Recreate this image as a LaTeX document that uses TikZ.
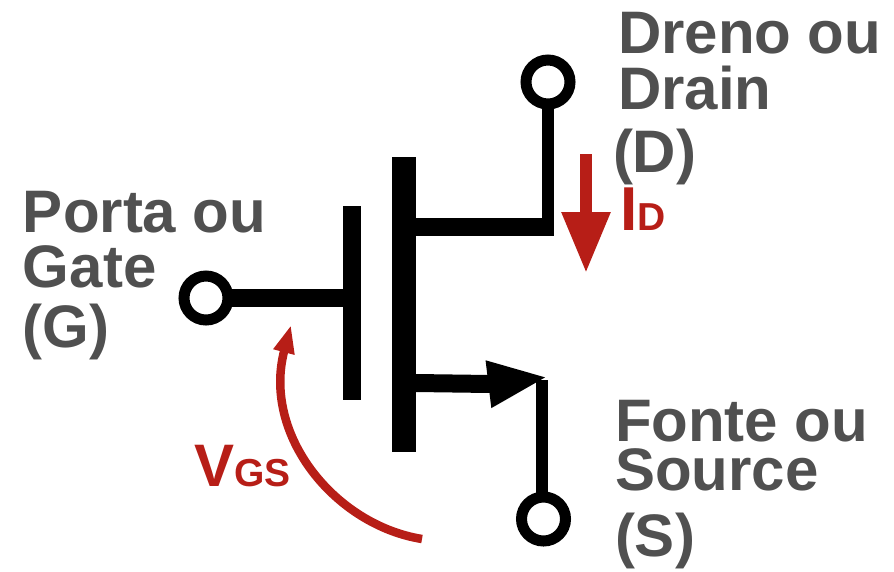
\documentclass[tikz,border=0pt]{standalone}
\usepackage{fontspec}
\setmainfont{Liberation Sans}
\usetikzlibrary{arrows.meta,positioning}
\definecolor{fetgray}{RGB}{80,80,80}
\definecolor{fetred}{RGB}{183,30,23}

\begin{document}
\begin{tikzpicture}[
  x=1pt,y=-1pt,
  every node/.style={inner sep=0pt,outer sep=0pt},
  terminal/.style={circle,draw=black,line width=11pt,fill=white,minimum size=44pt},
  plate/.style={fill=black,rectangle},
  lead/.style={draw=black,line width=12pt},
  arm/.style={draw=black,line width=18pt},
  pinlabel/.style={anchor=base west,text=fetgray,align=left,font=\bfseries\fontsize{60}{49}\selectfont},
  redlabel/.style={anchor=base west,text=fetred,font=\bfseries}
]
\useasboundingbox (0,0) rectangle (894,571);

\node[plate,minimum width=18pt,minimum height=194pt] (gateplate) at (352,303) {};
\node[plate,minimum width=24pt,minimum height=295pt] (channel) at (404,304.5) {};
\node[terminal] (gate) at (206,298) {};
\node[terminal] (drain) at (548,82) {};
\node[terminal] (source) at (543.5,519) {};

\coordinate (draincorner) at (554,227);
\coordinate (sourcein) at (channel.east |- 0,383);
\coordinate (sourcebend) at (490,384);
\coordinate (sourcecorner) at (548,377);
\coordinate (sourcedown) at (542,380);
\coordinate (idtop) at (586,154);
\coordinate (idtip) at (586,273);
\coordinate (vgsstart) at (422,539);
\coordinate (vgstip) at (291,325);

\draw[arm] (gate) -- (gateplate.west |- gate);
\draw[arm] (channel.east |- draincorner) -- (draincorner);
\draw[lead] (drain) -- (548,236);
\draw[lead] (sourcedown) -- (source.north -| sourcedown);
\draw[arm,-{Triangle[length=60pt,width=43pt]}] (sourcein) -- (sourcebend) -- (sourcecorner);

\draw[draw=fetred,line width=12pt,-{Triangle[length=61pt,width=46pt]}] (idtop) -- (idtip);
\draw[draw=fetred,line width=8.5pt,-{Triangle[length=28pt,width=20pt]}] (vgsstart) .. controls (335,525) and (262,435) .. (vgstip);

\node[pinlabel] (gatelabel) at (23,347) {Porta ou\\[6pt]Gate\\[11pt](G)};
\node[pinlabel] (drainlabel) at (613,172) {\hspace*{5pt}Dreno ou\\[7pt]\hspace*{5pt}Drain\\[14pt](D)};
\node[pinlabel] (sourcelabel) at (615,556) {Fonte ou\\Source\\[17pt](S)};
\node[redlabel] (idlabel) at (620,230) {\fontsize{62}{62}\selectfont I\fontsize{39}{39}\selectfont D};
\node[redlabel] (vgslabel) at (194,486) {\fontsize{60}{60}\selectfont V\fontsize{39}{39}\selectfont GS};
\end{tikzpicture}
\end{document}
